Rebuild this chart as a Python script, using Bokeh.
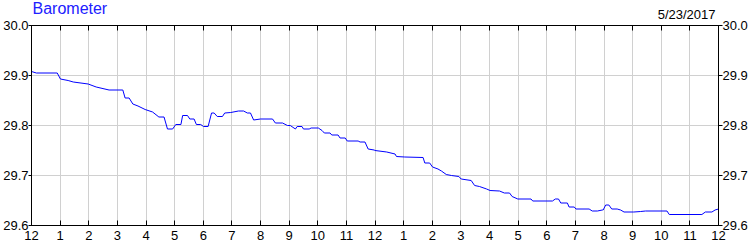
from bokeh.plotting import figure
from bokeh.models import (LinearAxis, FixedTicker, PrintfTickFormatter, Range1d, Title)
from bokeh.embed import file_html
from bokeh.resources import INLINE

# ---- data -------------------------------------------------------------
title_text = "Barometer"
date_text = "5/23/2017"

# hours since midnight, barometric pressure (inHg)
hours = [0.00, 0.17, 0.90, 1.01, 1.28, 1.46, 1.98, 2.26, 2.71, 3.19, 3.27, 3.41,
         3.54, 3.72, 3.97, 4.23, 4.45, 4.63, 4.75, 4.93, 5.04, 5.22, 5.28, 5.45,
         5.53, 5.68, 5.76, 5.91, 6.01, 6.17, 6.29, 6.38, 6.49, 6.67, 6.75, 6.96,
         7.23, 7.41, 7.54, 7.65, 7.76, 8.00, 8.42, 8.52, 8.77, 8.94, 9.04, 9.22,
         9.28, 9.45, 9.50, 9.70, 9.77, 10.02, 10.15, 10.23, 10.43, 10.49, 10.71,
         10.78, 10.96, 11.03, 11.41, 11.48, 11.65, 11.76, 11.97, 12.00, 12.41,
         12.70, 12.75, 13.04, 13.68, 13.74, 13.91, 14.01, 14.20, 14.32, 14.49,
         14.67, 14.93, 15.01, 15.36, 15.48, 15.65, 15.90, 16.02, 16.35, 16.52,
         16.70, 16.79, 16.99, 17.45, 17.51, 18.20, 18.30, 18.41, 18.49, 18.72,
         18.78, 18.96, 19.02, 19.48, 19.59, 19.77, 19.94, 19.97, 20.06, 20.17,
         20.27, 20.46, 20.58, 20.70, 21.04, 21.28, 21.45, 22.20, 22.28, 23.42,
         23.54, 23.77, 23.88, 24.00]
pressure = [29.908, 29.905, 29.905, 29.893, 29.890, 29.887, 29.883, 29.877, 29.871,
            29.871, 29.855, 29.855, 29.843, 29.839, 29.832, 29.827, 29.817, 29.817,
            29.793, 29.793, 29.802, 29.802, 29.820, 29.820, 29.813, 29.813, 29.802,
            29.802, 29.798, 29.798, 29.825, 29.825, 29.818, 29.818, 29.825, 29.826,
            29.829, 29.829, 29.825, 29.825, 29.811, 29.813, 29.813, 29.805, 29.805,
            29.800, 29.800, 29.793, 29.798, 29.798, 29.793, 29.793, 29.795, 29.795,
            29.790, 29.785, 29.785, 29.781, 29.781, 29.775, 29.775, 29.769, 29.769,
            29.767, 29.767, 29.753, 29.751, 29.750, 29.747, 29.743, 29.738, 29.737,
            29.736, 29.725, 29.725, 29.717, 29.713, 29.709, 29.702, 29.700, 29.698,
            29.693, 29.690, 29.680, 29.678, 29.673, 29.670, 29.669, 29.665, 29.665,
            29.658, 29.653, 29.653, 29.649, 29.649, 29.653, 29.653, 29.645, 29.645,
            29.637, 29.637, 29.633, 29.633, 29.629, 29.629, 29.631, 29.631, 29.641,
            29.641, 29.633, 29.633, 29.631, 29.627, 29.627, 29.628, 29.629, 29.629,
            29.622, 29.622, 29.627, 29.627, 29.631, 29.633]

hour_ticks = list(range(0, 25))
hour_labels = ["12", "1", "2", "3", "4", "5", "6", "7", "8", "9", "10", "11",
               "12", "1", "2", "3", "4", "5", "6", "7", "8", "9", "10", "11", "12"]
y_ticks = [29.6, 29.7, 29.8, 29.9, 30.0]

# ---- figure -----------------------------------------------------------
FONT = "Liberation Sans"

p = figure(width=750, height=250, output_backend="svg", toolbar_location=None,
           x_range=Range1d(0, 24), y_range=Range1d(29.6, 30.0),
           x_axis_location=None, y_axis_location=None,
           min_border_left=30, min_border_right=30,
           min_border_top=25, min_border_bottom=25)
p.outline_line_color = "black"
p.background_fill_color = "white"
p.border_fill_color = "white"

p.xgrid.ticker = FixedTicker(ticks=hour_ticks)
p.ygrid.ticker = FixedTicker(ticks=y_ticks)
p.xgrid.grid_line_color = "#D0D0D0"
p.ygrid.grid_line_color = "#D0D0D0"

def style(ax):
    ax.axis_line_color = "black"
    ax.major_tick_line_color = "black"
    ax.minor_tick_line_color = None
    ax.major_label_text_font = FONT
    ax.major_label_text_font_size = "13px"
    ax.major_label_text_color = "black"

# bottom
xb = LinearAxis(ticker=FixedTicker(ticks=hour_ticks),
                major_label_overrides={t: l for t, l in zip(hour_ticks, hour_labels)})
style(xb)
xb.major_tick_in = 5
xb.major_tick_out = 0
xb.major_label_standoff = 5
p.add_layout(xb, "below")

# top (ticks only; blank labels keep a few pixels of room under the header)
xt = LinearAxis(ticker=FixedTicker(ticks=hour_ticks),
                major_label_overrides={t: " " for t in hour_ticks})
style(xt)
xt.major_tick_in = 5
xt.major_tick_out = 0
xt.major_label_standoff = 3
xt.major_label_text_font_size = "1px"
p.add_layout(xt, "above")

# left
yl = LinearAxis(ticker=FixedTicker(ticks=y_ticks), formatter=PrintfTickFormatter(format="%.1f"))
style(yl)
yl.major_tick_in = 0
yl.major_tick_out = 3
yl.major_label_standoff = 0
p.add_layout(yl, "left")

# right
yr = LinearAxis(ticker=FixedTicker(ticks=y_ticks), formatter=PrintfTickFormatter(format="%.1f"))
style(yr)
yr.major_tick_in = 0
yr.major_tick_out = 4
yr.major_label_standoff = 0
p.add_layout(yr, "right")

p.line(hours, pressure, line_color="#0000FF", line_width=1)

# date, right-aligned above the frame
date_title = Title(text=date_text, align="right", offset=3, standoff=-7,
                   text_font=FONT, text_font_size="13px", text_font_style="normal",
                   text_color="black")
p.add_layout(date_title, "above")

# main title, drawn on the same row as the date
p.title.text = title_text
p.title.align = "left"
p.title.offset = 1
p.title.standoff = -17
p.title.text_font = FONT
p.title.text_font_size = "16px"
p.title.text_font_style = "normal"
p.title.text_color = "#2020FF"

open("out.html", "w").write(file_html(p, INLINE))
